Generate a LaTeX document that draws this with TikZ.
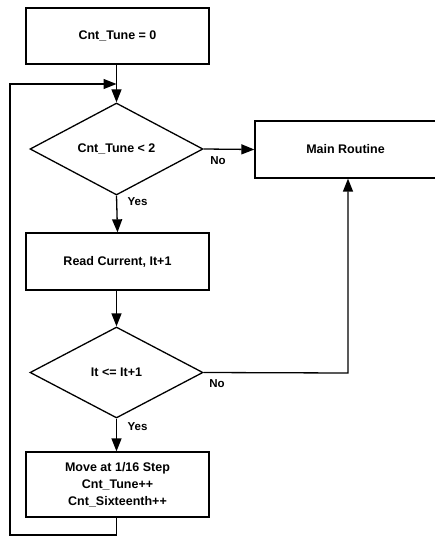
\documentclass[tikz,border=0pt]{standalone}
\usepackage{fontspec}
\setmainfont{Liberation Sans}
\usetikzlibrary{shapes.geometric,arrows.meta,positioning}
\begin{document}
\begin{tikzpicture}[x=1pt,y=-1pt,
  line width=1.3pt,
  procbox/.style={draw, rectangle, inner sep=0pt, font=\bfseries\fontsize{12.5}{17}\selectfont, align=center},
  decision/.style={draw, diamond, inner sep=0pt, minimum width=173pt, minimum height=92pt, font=\bfseries\fontsize{12.5}{17}\selectfont},
  arr/.style={-{Triangle[length=13pt,width=10pt]}},
  lbl/.style={font=\bfseries\fontsize{11.5}{13}\selectfont, inner sep=0pt}]
\useasboundingbox (0,0) rectangle (434,537);
\node[procbox, minimum width=183pt, minimum height=56pt] (b1) at (117.5,36) {Cnt\_Tune = 0};
\node[decision] (d1) at (116.5,149) {Cnt\_Tune < 2};
\node[procbox, minimum width=181pt, minimum height=57pt] (main) at (345.5,149.5) {Main Routine};
\node[procbox, minimum width=183pt, minimum height=57pt] (b2) at (117.5,261.5) {Read Current, It+1};
\node[decision, minimum height=91pt] (d2) at (116.5,372.5) {It <= It+1};
\node[procbox, minimum width=183pt, minimum height=65pt] (b3) at (117.5,484.5) {Move at 1/16 Step\\Cnt\_Tune++\\Cnt\_Sixteenth++};
\coordinate (lb) at (10,535);
\coordinate (lt) at (10,84);
\coordinate (jn) at (116.5,84);
\coordinate (nr) at (348,373);
\draw[arr] (b1.south -| d1.north) -- (d1.north);
\draw[arr] (d1.east) -- (main.west);
\draw[arr] (d1.south) -- (b2.south |- b2.north);
\draw[arr] (b2.south -| d2.north) -- (d2.north);
\draw[arr] (d2.south) -- (d2.south |- b3.north);
\draw[arr] (d2.east) -- (nr) -- (nr |- main.south);
\draw[arr] (b3.south -| d2.south) |- (lb) -- (lt) -- (jn);
\node[lbl] (no1) at (218,161) {No};
\node[lbl] (yes1) at (137.5,202) {Yes};
\node[lbl] (no2) at (217,384) {No};
\node[lbl] (yes2) at (137.5,427) {Yes};
\end{tikzpicture}
\end{document}
